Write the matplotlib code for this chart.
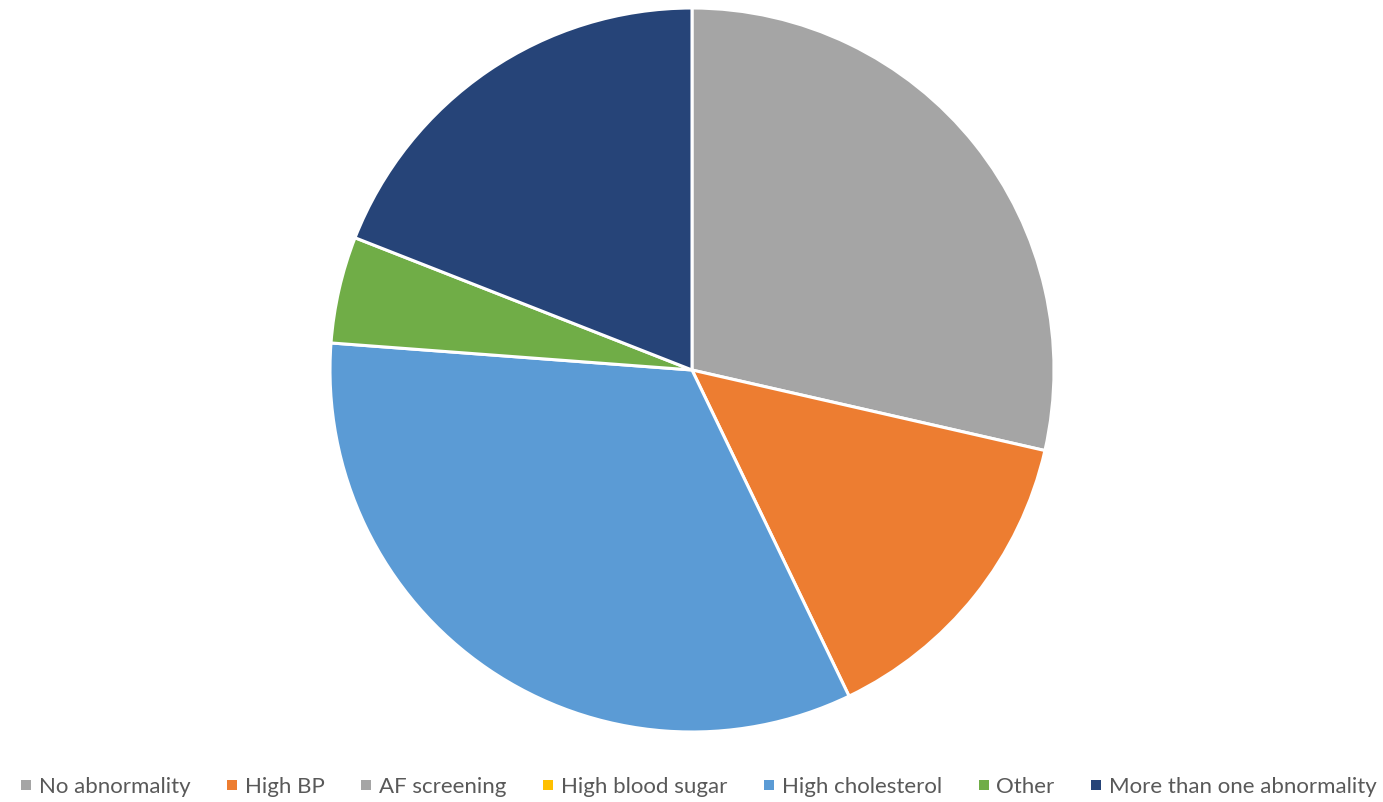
import matplotlib
matplotlib.use("Agg")
import matplotlib.pyplot as plt
from matplotlib.lines import Line2D

# categories and counts (slices ~6/21, 3/21, 0, 0, 7/21, 1/21, 4/21)
labels = ["No abnormality", "High BP", "AF screening", "High blood sugar",
          "High cholesterol", "Other", "More than one abnormality"]
counts = [6, 3, 0, 0, 7, 1, 4]
colors = ["#A5A5A5", "#ED7D31", "#A5A5A5", "#FFC000", "#5B9BD5", "#70AD47", "#264478"]

TEXT = "#595959"
plt.rcParams["font.family"] = ["Lato", "DejaVu Sans"]

W, H = 1383, 802
fig = plt.figure(figsize=(W / 100, H / 100), dpi=100, facecolor="white")

cx, cy, r = 692, 370, 362
ax = fig.add_axes([(cx - r) / W, (H - cy - r) / H, 2 * r / W, 2 * r / H])

# drop zero slices from drawing (Excel draws nothing for them) but keep them in legend
vals = [v for v in counts if v > 0]
cols = [c for v, c in zip(counts, colors) if v > 0]
ax.pie(vals, colors=cols, startangle=90, counterclock=False, radius=1.0,
       wedgeprops=dict(edgecolor="white", linewidth=2.2))
ax.set_xlim(-1, 1); ax.set_ylim(-1, 1)
ax.set_aspect("equal")
ax.axis("off")

handles = [Line2D([], [], marker="s", ls="none", markersize=7, color=c,
                  markeredgewidth=0) for c in colors]
fig.legend(handles, labels, loc="center", bbox_to_anchor=(0.505, 1 - 787 / H),
           ncol=7, frameon=False, fontsize=16, labelcolor=TEXT,
           handlelength=0.55, handletextpad=0.3, columnspacing=1.6)

fig.savefig("out.png", dpi=100, facecolor="white")
